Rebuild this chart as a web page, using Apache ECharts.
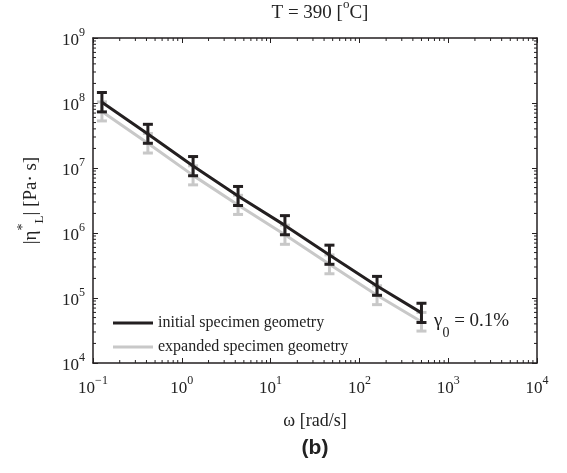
<!DOCTYPE html>
<html><head><meta charset="utf-8">
<script src="https://cdn.jsdelivr.net/npm/echarts@6/dist/echarts.min.js"></script>
<style>html,body{margin:0;padding:0;background:#fff}#c{width:567px;height:473px}</style>
</head><body><div id="c"></div>
<script>
const omega = [0.126, 0.415, 1.34, 4.3, 14.5, 46, 158, 500];
const etaInit = [1.03e8, 3.33e7, 1.07e7, 3.7e6, 1.31e6, 4.6e5, 1.53e5, 5.9e4];
const initLow = [7.3e7, 2.4e7, 7.6e6, 2.65e6, 9.4e5, 3.3e5, 1.1e5, 4.2e4];
const initHigh = [1.45e8, 4.7e7, 1.5e7, 5.2e6, 1.85e6, 6.5e5, 2.15e5, 8.3e4];
const etaExp = [7.4e7, 2.4e7, 7.7e6, 2.7e6, 9.4e5, 3.3e5, 1.1e5, 4.3e4];
const expLow = [5.3e7, 1.7e7, 5.5e6, 1.93e6, 6.7e5, 2.36e5, 7.9e4, 3.1e4];
const expHigh = [1.04e8, 3.4e7, 1.08e7, 3.8e6, 1.32e6, 4.6e5, 1.54e5, 6.0e4];
const xTickExps = [-1, 0, 1, 2, 3, 4];
const yTickExps = [4, 5, 6, 7, 8, 9];
const minorMult = [2, 3, 4, 5, 6, 7, 8, 9];
const seriesNames = ['initial specimen geometry', 'expanded specimen geometry'];

const BLACK = '#231f20', GREY = '#c8c8c8';
const SERIF = '"Liberation Serif", "DejaVu Serif", serif';
const XMIN = 0.1, XMAX = 1e4, YMIN = 1e4, YMAX = 1e9;

function minorValues(exps) {
  const out = [];
  for (let i = 0; i < exps.length - 1; i++)
    minorMult.forEach(m => out.push(m * Math.pow(10, exps[i])));
  return out;
}
const xMinor = minorValues(xTickExps);
const yMinor = minorValues(yTickExps);

function expLabel(exps) {
  return function (v) {
    const e = Math.round(Math.log10(v));
    if (exps.indexOf(e) < 0) return '';
    return '{b|10}{s|' + String(e).replace('-', '\u2212') + '}';
  };
}
const labelRich = {
  b: { fontFamily: SERIF, fontSize: 17, color: '#222', verticalAlign: 'bottom', lineHeight: 18 },
  s: { fontFamily: SERIF, fontSize: 12, color: '#222', verticalAlign: 'top', lineHeight: 22 }
};

function errBar(color) {
  return function (params, api) {
    const x = api.value(0), lo = api.value(1), hi = api.value(2);
    const p1 = api.coord([x, lo]), p2 = api.coord([x, hi]);
    const hw = 5;
    const st = { stroke: color, lineWidth: 3 };
    return { type: 'group', children: [
      { type: 'line', shape: { x1: p1[0], y1: p1[1], x2: p2[0], y2: p2[1] }, style: st },
      { type: 'line', shape: { x1: p1[0] - hw, y1: p1[1], x2: p1[0] + hw, y2: p1[1] }, style: st },
      { type: 'line', shape: { x1: p2[0] - hw, y1: p2[1], x2: p2[0] + hw, y2: p2[1] }, style: st }
    ]};
  };
}
const TL = 3;
function minorTickX(params, api) {
  const v = api.value(0);
  const b = api.coord([v, YMIN]), t = api.coord([v, YMAX]);
  const st = { stroke: BLACK, lineWidth: 1 };
  return { type: 'group', children: [
    { type: 'line', shape: { x1: b[0], y1: b[1], x2: b[0], y2: b[1] - TL }, style: st },
    { type: 'line', shape: { x1: t[0], y1: t[1], x2: t[0], y2: t[1] + TL }, style: st }
  ]};
}
function minorTickY(params, api) {
  const v = api.value(1);
  const l = api.coord([XMIN, v]), r = api.coord([XMAX, v]);
  const st = { stroke: BLACK, lineWidth: 1 };
  return { type: 'group', children: [
    { type: 'line', shape: { x1: l[0], y1: l[1], x2: l[0] + TL, y2: l[1] }, style: st },
    { type: 'line', shape: { x1: r[0], y1: r[1], x2: r[0] - TL, y2: r[1] }, style: st }
  ]};
}

const axisCommon = {
  type: 'log', logBase: 10,
  axisLine: { show: true, onZero: false, lineStyle: { color: BLACK, width: 1.5 } },
  axisTick: { show: true, inside: true, length: 5, lineStyle: { color: BLACK, width: 1 } },
  minorTick: { show: false },
  splitLine: { show: false }
};

const chart = echarts.init(document.getElementById('c'), null, { renderer: 'canvas' });
chart.setOption({
  animation: false,
  backgroundColor: '#fff',
  title: {
    text: '{a|T = 390 [}{s|o}{a|C]}',
    left: 315, top: -7, textAlign: 'center',
    textStyle: { fontWeight: 'normal', rich: {
      a: { fontFamily: SERIF, fontSize: 19, fontWeight: 'normal', color: '#222', verticalAlign: 'bottom', lineHeight: 20 },
      s: { fontFamily: SERIF, fontSize: 13, fontWeight: 'normal', color: '#222', verticalAlign: 'top', lineHeight: 25 }
    } }
  },
  grid: { left: 93, right: 30, top: 38, bottom: 110, containLabel: false },
  legend: {
    orient: 'vertical', left: 113, top: 315, itemGap: 8, padding: 0,
    icon: 'rect', itemWidth: 40, itemHeight: 3,
    data: seriesNames,
    textStyle: { fontFamily: SERIF, fontSize: 16, color: '#222' }
  },
  xAxis: [
    Object.assign({}, axisCommon, {
      min: XMIN, max: XMAX, position: 'bottom',
      axisLabel: { margin: 12, formatter: expLabel(xTickExps), rich: labelRich },
      name: 'ω [rad/s]', nameLocation: 'middle', nameGap: 49,
      nameTextStyle: { fontFamily: SERIF, fontSize: 18, color: '#222' }
    }),
    Object.assign({}, axisCommon, {
      min: XMIN, max: XMAX, position: 'top', axisLabel: { show: false }
    })
  ],
  yAxis: [
    Object.assign({}, axisCommon, {
      min: YMIN, max: YMAX, position: 'left',
      axisLabel: { margin: 8, formatter: expLabel(yTickExps), rich: labelRich },
      name: '{a||η}{sp|*}{sb|L}{a|| [Pa· s]}', nameLocation: 'middle', nameGap: 47, nameRotate: 90,
      nameTextStyle: { rich: {
        a: { fontFamily: SERIF, fontSize: 19, color: '#222', lineHeight: 22, verticalAlign: 'middle' },
        sp: { fontFamily: SERIF, fontSize: 14, color: '#222', lineHeight: 30, verticalAlign: 'top' },
        sb: { fontFamily: SERIF, fontSize: 13, color: '#222', lineHeight: 30, verticalAlign: 'bottom' }
      } }
    }),
    Object.assign({}, axisCommon, {
      min: YMIN, max: YMAX, position: 'right', axisLabel: { show: false }
    })
  ],
  series: [
    { type: 'custom', renderItem: minorTickX, encode: { x: 0, y: 1 }, z: 1, silent: true,
      data: xMinor.map(v => [v, YMIN]) },
    { type: 'custom', renderItem: minorTickY, encode: { x: 0, y: 1 }, z: 1, silent: true,
      data: yMinor.map(v => [XMIN, v]) },
    { type: 'custom', renderItem: errBar(GREY), encode: { x: 0, y: [1, 2] }, z: 2,
      data: omega.map((w, i) => [w, expLow[i], expHigh[i]]) },
    { name: seriesNames[1], type: 'line', symbol: 'none', z: 3,
      lineStyle: { color: GREY, width: 3 }, itemStyle: { color: GREY },
      data: omega.map((w, i) => [w, etaExp[i]]) },
    { name: seriesNames[0], type: 'line', symbol: 'none', z: 4,
      lineStyle: { color: BLACK, width: 3 }, itemStyle: { color: BLACK },
      data: omega.map((w, i) => [w, etaInit[i]]) },
    { type: 'custom', renderItem: errBar(BLACK), encode: { x: 0, y: [1, 2] }, z: 5,
      data: omega.map((w, i) => [w, initLow[i], initHigh[i]]) }
  ],
  graphic: [
    { type: 'text', left: 434, top: 312, z: 10,
      style: { text: '{a|γ}{s|0}{a| = 0.1%}', rich: {
        a: { fontFamily: SERIF, fontSize: 19, fill: '#222', verticalAlign: 'top', lineHeight: 28 },
        s: { fontFamily: SERIF, fontSize: 14, fill: '#222', verticalAlign: 'bottom', lineHeight: 28 }
      } } },
    { type: 'text', x: 315, y: 448, z: 10,
      style: { text: '(b)', fontFamily: '"Liberation Sans", Arial, sans-serif', fontWeight: 'bold',
        fontSize: 21, fill: '#222', textAlign: 'center', textVerticalAlign: 'middle' } }
  ]
});
</script></body></html>
